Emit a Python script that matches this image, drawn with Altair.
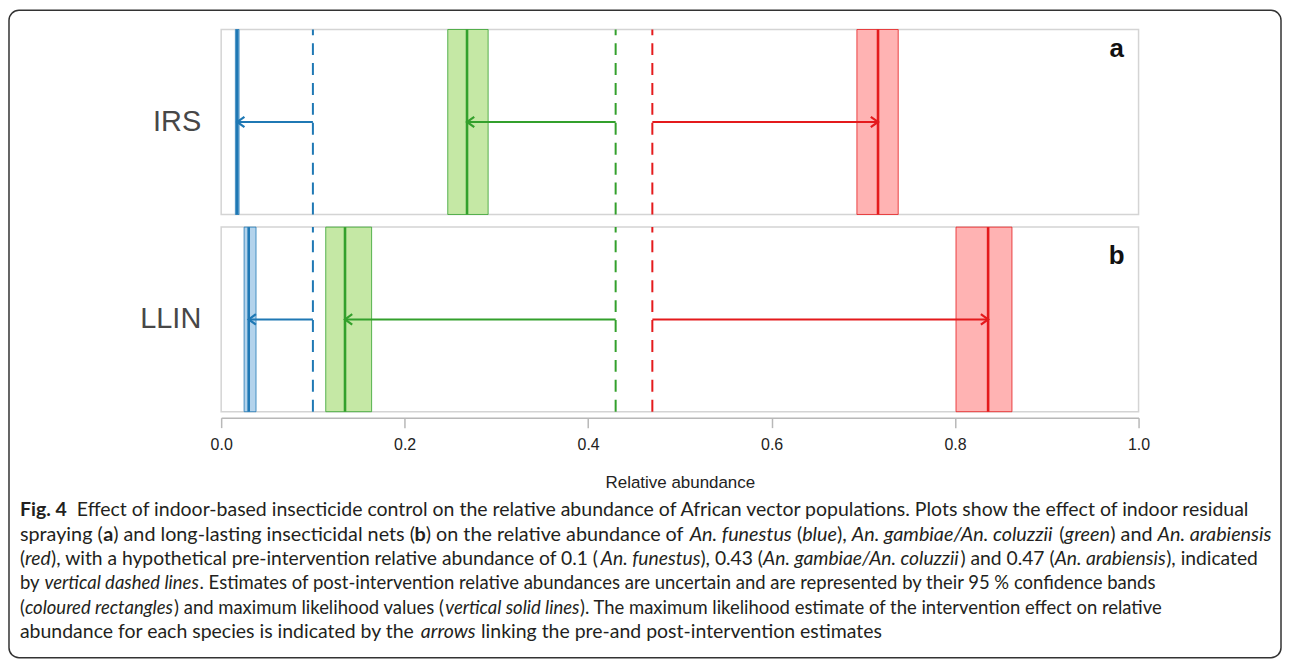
import glob
import os
import struct

import altair as alt
import pandas as pd

# ---------------- data ----------------
panels = ["IRS", "LLIN"]
panel_letters = ["a", "b"]
species = ["An. funestus", "An. gambiae/An. coluzzii", "An. arabiensis"]
pre_values = [0.10, 0.43, 0.47]
irs_mle = [0.0175, 0.268, 0.716]
irs_lo = [0.0155, 0.247, 0.693]
irs_hi = [0.0195, 0.291, 0.738]
llin_mle = [0.030, 0.135, 0.836]
llin_lo = [0.025, 0.114, 0.801]
llin_hi = [0.038, 0.164, 0.862]
x_ticks = [0.0, 0.2, 0.4, 0.6, 0.8, 1.0]
x_title = "Relative abundance"

line_colors = ["#1f78b4", "#33a02c", "#e41a1c"]
fill_colors = ["#b3d3ec", "#c5e8a5", "#ffb3b3"]

N, B, I = "n", "b", "i"
caption_lines = [
    [("Fig. 4", B), ("  Effect of indoor-based insecticide control on the relative abundance of African vector populations. Plots show the effect of indoor residual", N)],
    [("spraying (", N), ("a", B), (") and long-lasting insecticidal nets (", N), ("b", B),
     (") on the relative abundance of ", N), ("An. funestus", I), (" (", N), ("blue", I), ("), ", N),
     ("An. gambiae/An. coluzzii", I), (" (", N), ("green", I), (") and ", N), ("An. arabiensis", I)],
    [("(", N), ("red", I), ("), with a hypothetical pre-intervention relative abundance of 0.1 (", N),
     ("An. funestus", I), ("), 0.43 (", N), ("An. gambiae/An. coluzzii", I), (") and 0.47 (", N),
     ("An. arabiensis", I), ("), indicated", N)],
    [("by ", N), ("vertical dashed lines", I),
     (". Estimates of post-intervention relative abundances are uncertain and are represented by their 95 % confidence bands", N)],
    [("(", N), ("coloured rectangles", I), (") and maximum likelihood values (", N), ("vertical solid lines", I),
     ("). The maximum likelihood estimate of the intervention effect on relative", N)],
    [("abundance for each species is indicated by the ", N), ("arrows", I), (" linking the pre-and post-intervention estimates", N)],
]

# ---------------- layout ----------------
W, H = 1277, 650
X_RANGE = [213, 1134]
PANEL_RANGES = {"IRS": [205, 19.3], "LLIN": [403, 217.7]}
LETTER_Y = {"IRS": 47, "LLIN": 255}
LETTER_X = 1112
AXIS_OFFSET = 409 - H
CAP_X0 = 11
CAP_Y0 = 502
CAP_DY = 24.4
CAP_LINE_W = [1243, 1257, 1243, 1146, 1150, 866]


# ---------------- font metrics (for caption segment layout) ----------------
def _load_metrics(path):
    with open(path, "rb") as f:
        data = f.read()
    num = struct.unpack(">H", data[4:6])[0]
    tabs = {}
    for i in range(num):
        tag, _, off, _ln = struct.unpack(">4sIII", data[12 + 16 * i: 28 + 16 * i])
        tabs[tag.decode("latin-1")] = off
    upem = struct.unpack(">H", data[tabs["head"] + 18: tabs["head"] + 20])[0]
    nhm = struct.unpack(">H", data[tabs["hhea"] + 34: tabs["hhea"] + 36])[0]
    hm = tabs["hmtx"]
    adv = struct.unpack(">" + "Hh" * nhm, data[hm: hm + 4 * nhm])[0::2]
    cm = tabs["cmap"]
    n = struct.unpack(">H", data[cm + 2: cm + 4])[0]
    sub = None
    for i in range(n):
        pid, eid, so = struct.unpack(">HHI", data[cm + 4 + 8 * i: cm + 12 + 8 * i])
        fmt = struct.unpack(">H", data[cm + so: cm + so + 2])[0]
        if fmt == 4 and (pid == 0 or (pid == 3 and eid in (1, 10))):
            sub = cm + so
            break
    segx2 = struct.unpack(">H", data[sub + 6: sub + 8])[0]
    seg = segx2 // 2
    ends = struct.unpack(">%dH" % seg, data[sub + 14: sub + 14 + segx2])
    starts = struct.unpack(">%dH" % seg, data[sub + 16 + segx2: sub + 16 + 2 * segx2])
    deltas = struct.unpack(">%dh" % seg, data[sub + 16 + 2 * segx2: sub + 16 + 3 * segx2])
    ro_base = sub + 16 + 3 * segx2
    ros = struct.unpack(">%dH" % seg, data[ro_base: ro_base + segx2])

    def gid(c):
        for k in range(seg):
            if ends[k] >= c:
                if starts[k] > c:
                    return 0
                if ros[k] == 0:
                    return (c + deltas[k]) & 0xFFFF
                a = ro_base + 2 * k + ros[k] + 2 * (c - starts[k])
                g = struct.unpack(">H", data[a:a + 2])[0]
                return (g + deltas[k]) & 0xFFFF if g else 0
        return 0

    def width(s):
        return sum(adv[min(gid(ord(ch)), nhm - 1)] for ch in s) / upem

    return width


def _find(name):
    for base in ["/usr/share/fonts", "/usr/local/share/fonts",
                 os.path.expanduser("~/.fonts"), os.path.expanduser("~/.local/share/fonts")]:
        hits = glob.glob(os.path.join(base, "**", name), recursive=True)
        if hits:
            return sorted(hits)[0]
    return None


FAMILIES = [
    ("Lato", "Lato-Regular.ttf", "Lato-Bold.ttf", "Lato-Italic.ttf"),
    ("Open Sans", "OpenSans-Regular.ttf", "OpenSans-Bold.ttf", "OpenSans-Italic.ttf"),
    ("Noto Sans", "NotoSans-Regular.ttf", "NotoSans-Bold.ttf", "NotoSans-Italic.ttf"),
    ("Liberation Sans", "LiberationSans-Regular.ttf", "LiberationSans-Bold.ttf", "LiberationSans-Italic.ttf"),
]

cap_font = "Lato"
widths = {N: lambda s: 0.48 * len(s), B: lambda s: 0.52 * len(s), I: lambda s: 0.46 * len(s)}
for fam, rf, bf, itf in FAMILIES:
    try:
        rp = _find(rf)
        if not rp:
            continue
        reg = _load_metrics(rp)
        bp, ip = _find(bf), _find(itf)
        widths = {N: reg, B: _load_metrics(bp) if bp else reg, I: _load_metrics(ip) if ip else reg}
        cap_font = fam
        break
    except Exception:
        continue

rows = []
for li, segs in enumerate(caption_lines):
    line_em = sum(widths[st](t) for t, st in segs)
    size = CAP_LINE_W[li] / line_em if line_em > 0 else 17
    cursor = CAP_X0
    for text, st in segs:
        lead = len(text) - len(text.lstrip(" "))
        core = text.strip(" ")
        if core:
            rows.append({"text": core, "px": cursor + widths[st](" " * lead) * size,
                         "py": CAP_Y0 + li * CAP_DY, "style": st, "fs": size})
        cursor += widths[st](text) * size
cap_df = pd.DataFrame(rows)

# ---------------- chart ----------------
xs = alt.Scale(domain=[0, 1], range=X_RANGE)
xaxis = alt.Axis(values=x_ticks, format=".1f", title=x_title, offset=AXIS_OFFSET,
                 tickSize=10, tickColor="#b8b8b8", tickWidth=1.5,
                 domainColor="#b8b8b8", domainWidth=1.5, grid=False, labelFlush=False,
                 labelFont="Liberation Sans", labelFontSize=16, labelColor="#222222", labelPadding=9,
                 titleFont="Liberation Sans", titleFontSize=17, titleFontWeight="normal",
                 titleColor="#222222", titlePadding=22)
stroke_enc = alt.Stroke("species:N", scale=alt.Scale(domain=species, range=line_colors), legend=None)
fill_enc = alt.Fill("species:N", scale=alt.Scale(domain=species, range=fill_colors), legend=None)


def panel_layer(name, letter, mle, lo, hi):
    df = pd.DataFrame({"species": species, "pre": pre_values, "mle": mle, "lo": lo, "hi": hi})
    ys = alt.Scale(domain=[0, 1], range=PANEL_RANGES[name])
    y0 = alt.YDatum(0, scale=ys, axis=None)
    y1 = alt.Y2Datum(1)
    ymid = alt.YDatum(0.5, scale=ys, axis=None)
    base = alt.Chart(df)

    box = alt.Chart(pd.DataFrame({"k": [0]})).mark_rect(
        fill="white", stroke="#d4d4d4", strokeWidth=1.5
    ).encode(x=alt.XDatum(0, scale=xs, axis=xaxis), x2=alt.X2Datum(1), y=y0, y2=y1)

    ci = base.mark_rect(strokeWidth=1, strokeOpacity=0.8).encode(
        x=alt.X("lo:Q", scale=xs, axis=xaxis), x2="hi:Q", y=y0, y2=y1, fill=fill_enc, stroke=stroke_enc)

    dashed = base.mark_rule(strokeWidth=2, strokeDash=[12, 8]).encode(
        x=alt.X("pre:Q", scale=xs, axis=xaxis), y=y0, y2=y1, stroke=stroke_enc)

    solid = base.mark_rule(strokeWidth=2.6).encode(
        x=alt.X("mle:Q", scale=xs, axis=xaxis), y=y0, y2=y1, stroke=stroke_enc)

    arrow = base.mark_rule(strokeWidth=2).encode(
        x=alt.X("pre:Q", scale=xs, axis=xaxis), x2="mle:Q", y=ymid, stroke=stroke_enc)

    head = base.transform_calculate(ang="datum.mle < datum.pre ? 180 : 0").mark_point(
        shape="M -1 -0.72 L 0 0 L -1 0.72", filled=False, size=210, strokeWidth=2.2, opacity=1
    ).encode(x=alt.X("mle:Q", scale=xs, axis=xaxis), y=ymid, stroke=stroke_enc,
             angle=alt.Angle("ang:Q", scale=None))

    lab = alt.Chart(pd.DataFrame({"label": [name]})).mark_text(
        align="right", baseline="middle", font="Liberation Sans", fontSize=29, color="#474747"
    ).encode(x=alt.value(193), y=ymid, text="label:N")

    let = alt.Chart(pd.DataFrame({"letter": [letter]})).mark_text(
        align="center", baseline="alphabetic", font="Liberation Sans", fontSize=26,
        fontWeight="bold", color="#111111"
    ).encode(x=alt.value(LETTER_X), y=alt.value(LETTER_Y[name]), text="letter:N")

    return alt.layer(box, ci, dashed, solid, arrow, head, lab, let)


panel_a = panel_layer(panels[0], panel_letters[0], irs_mle, irs_lo, irs_hi)
panel_b = panel_layer(panels[1], panel_letters[1], llin_mle, llin_lo, llin_hi)


def caption_layer(style, weight, fstyle):
    return alt.Chart(cap_df).transform_filter(alt.datum.style == style).mark_text(
        align="left", baseline="middle", font=cap_font,
        fontWeight=weight, fontStyle=fstyle, color="#231f20"
    ).encode(x=alt.X("px:Q", scale=None, axis=None), y=alt.Y("py:Q", scale=None, axis=None),
             size=alt.Size("fs:Q", scale=None, legend=None), text="text:N")


chart = alt.layer(
    panel_a, panel_b,
    caption_layer(N, "normal", "normal"),
    caption_layer(B, "bold", "normal"),
    caption_layer(I, "normal", "italic"),
).resolve_scale(y="independent").properties(
    width=W, height=H, padding=1
).configure_view(stroke="#333333", strokeWidth=1.5, cornerRadius=10)

chart.save("out.html", embed_options={"renderer": "svg", "actions": False})
